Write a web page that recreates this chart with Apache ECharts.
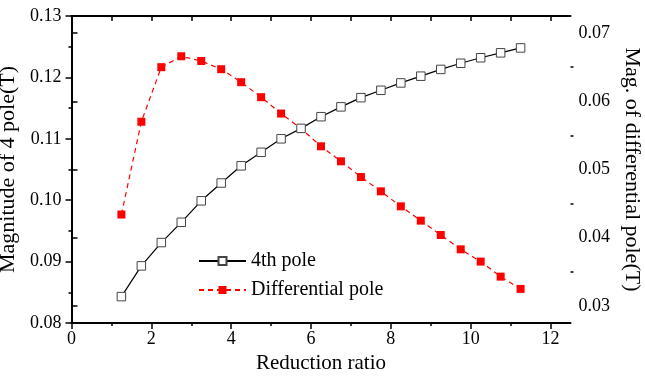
<!DOCTYPE html>
<html>
<head>
<meta charset="utf-8">
<script src="https://cdn.jsdelivr.net/npm/echarts@6/dist/echarts.min.js"></script>
<style>html,body{margin:0;padding:0;background:#fff}#c{width:645px;height:377px}</style>
</head>
<body>
<div id="c"></div>
<script>
var ratio = [1.25,1.75,2.25,2.75,3.25,3.75,4.25,4.75,5.25,5.75,6.25,6.75,7.25,7.75,8.25,8.75,9.25,9.75,10.25,10.75,11.25];
var fourthPole = [0.0843,0.0893,0.0931,0.0964,0.0999,0.1028,0.1056,0.1078,0.1100,0.1117,0.1136,0.1152,0.1167,0.1179,0.1191,0.1202,0.1213,0.1223,0.1232,0.1240,0.1248];
var diffPole = [0.0434,0.0570,0.0650,0.0666,0.0659,0.0647,0.0628,0.0606,0.0582,0.0560,0.0534,0.0512,0.0489,0.0468,0.0446,0.0425,0.0404,0.0383,0.0365,0.0343,0.0325];
var xMajor = [0,2,4,6,8,10,12];
var xMinor = [1,3,5,7,9,11];
var xTop = [1,2,3,4,5,6,7,8,9,10,11,12];
var yLeftMajor = [0.08,0.09,0.10,0.11,0.12,0.13];
var yLeftMinor = [0.085,0.095,0.105,0.115,0.125];
var yRightMajor = [0.03,0.04,0.05,0.06,0.07];
var yRightMinor = [0.035,0.045,0.055,0.065];

var FONT = 'Liberation Serif';
var chart = echarts.init(document.getElementById('c'), null, {renderer:'canvas'});
var lineAx = {show:true, lineStyle:{color:'#000', width:2}};
var noLine = {show:false};
function pts(xs, ys){ return xs.map(function(x,i){return [x, ys[i]];}); }

chart.setOption({
  animation:false,
  backgroundColor:'#fff',
  grid:{left:71.5, right:74.5, top:16, bottom:54, containLabel:false, outerBoundsMode:'none'},
  legend:{
    orient:'vertical', left:198, top:251, padding:0, itemWidth:47, itemHeight:10, itemGap:9,
    textStyle:{fontFamily:FONT, fontSize:20, color:'#000'},
    data:['4th pole','Differential pole']
  },
  xAxis:[
    {type:'value', position:'bottom', min:0, max:12.5,
     name:'Reduction ratio', nameLocation:'middle', nameGap:22,
     nameTextStyle:{fontFamily:FONT, fontSize:21, color:'#000'},
     axisLine:lineAx, splitLine:{show:false},
     axisTick:{show:true, length:6, inside:false, customValues:xMajor, lineStyle:{color:'#000', width:1.5}},
     axisLabel:{customValues:xMajor, fontFamily:FONT, fontSize:18, color:'#000', margin:7}},
    {type:'value', position:'bottom', min:0, max:12.5, axisLine:noLine, splitLine:{show:false},
     axisTick:{show:true, length:3, customValues:xMinor, lineStyle:{color:'#000', width:1.5}},
     axisLabel:{show:false}},
    {type:'value', position:'top', min:0, max:12.5, axisLine:lineAx, splitLine:{show:false},
     axisTick:{show:true, length:5, inside:true, customValues:xTop, lineStyle:{color:'#000', width:1.5}},
     axisLabel:{show:false}}
  ],
  yAxis:[
    {type:'value', position:'left', min:0.08, max:0.13,
     name:'Magnitude of 4 pole(T)', nameLocation:'middle', nameGap:41,
     nameTextStyle:{fontFamily:FONT, fontSize:22, color:'#000'},
     axisLine:lineAx, splitLine:{show:false},
     axisTick:{show:true, length:6, customValues:yLeftMajor, lineStyle:{color:'#000', width:1.5}},
     axisLabel:{customValues:yLeftMajor, fontFamily:FONT, fontSize:18, color:'#000', margin:10,
       formatter:function(v){return v.toFixed(2);}}},
    {type:'value', position:'left', min:0.08, max:0.13, axisLine:noLine, splitLine:{show:false},
     axisTick:{show:true, length:3, customValues:yLeftMinor, lineStyle:{color:'#000', width:1.5}},
     axisLabel:{show:false}},
    {type:'value', position:'right', min:0.0275, max:0.0725,
     name:'Mag. of differential pole(T)', nameLocation:'middle', nameGap:44, nameRotate:-90,
     nameTextStyle:{fontFamily:FONT, fontSize:22, color:'#000'},
     axisLine:lineAx, splitLine:{show:false},
     axisTick:{show:true, length:6, customValues:yRightMajor, lineStyle:{color:'#000', width:1.5}},
     axisLabel:{customValues:yRightMajor, fontFamily:FONT, fontSize:18, color:'#000', margin:8,
       formatter:function(v){return v.toFixed(2);}}},
    {type:'value', position:'right', min:0.0275, max:0.0725, axisLine:noLine, splitLine:{show:false},
     axisTick:{show:true, length:3, customValues:yRightMinor, lineStyle:{color:'#000', width:1.5}},
     axisLabel:{show:false}}
  ],
  series:[
    {name:'4th pole', type:'line', xAxisIndex:0, yAxisIndex:0, data:pts(ratio, fourthPole),
     symbol:'rect', symbolSize:8.5, showAllSymbol:true,
     lineStyle:{color:'#000', width:1.2},
     itemStyle:{color:'#fff', borderColor:'#444', borderWidth:1}, z:3},
    {name:'Differential pole', type:'line', xAxisIndex:0, yAxisIndex:2, data:pts(ratio, diffPole),
     symbol:'rect', symbolSize:8, showAllSymbol:true,
     lineStyle:{color:'#ff0000', width:1.2, type:[5,4]},
     itemStyle:{color:'#ff0000', borderWidth:0}, z:2}
  ]
});
</script>
</body>
</html>
